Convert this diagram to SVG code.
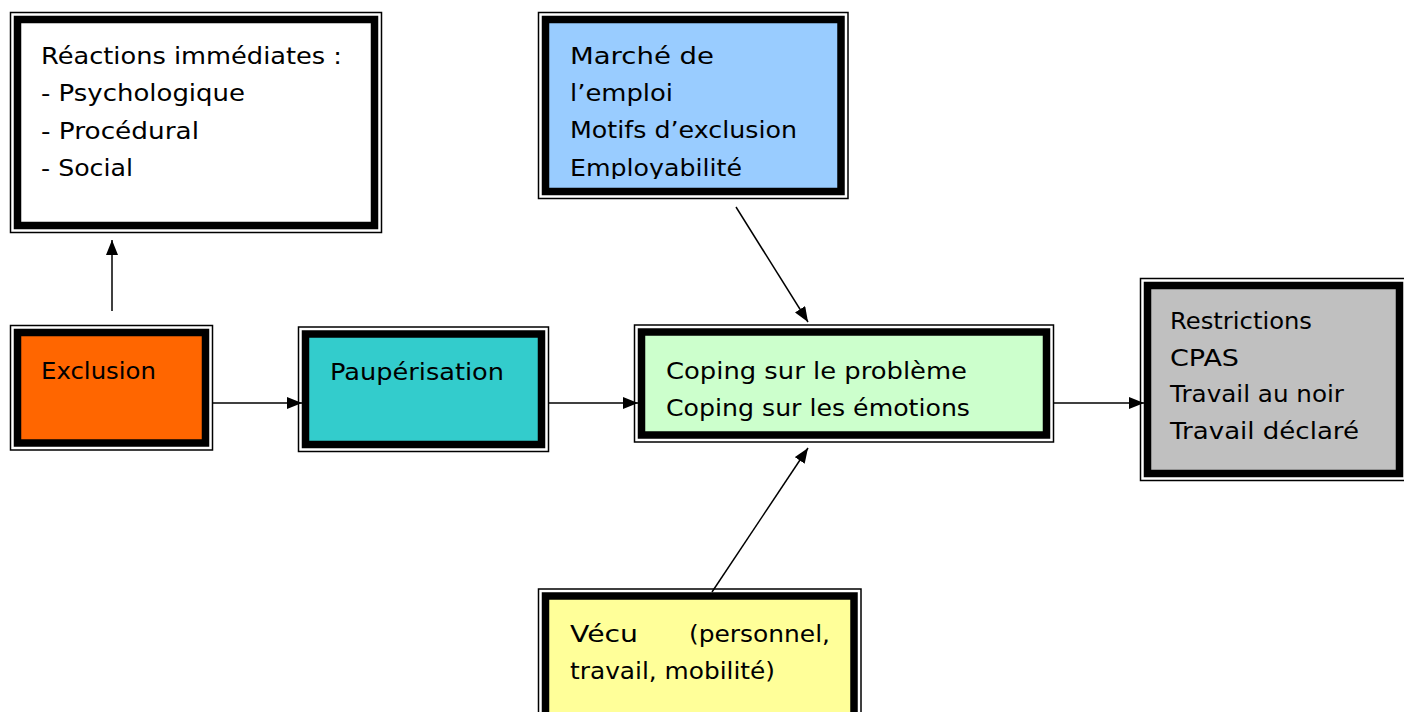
<svg xmlns="http://www.w3.org/2000/svg" width="1404" height="712" viewBox="0 0 1404 712">
<style>
.outer{fill:#fff;stroke:#000;stroke-width:1.5}
.thick{stroke:#000;stroke-width:7.5}
.t{font-family:"DejaVu Sans","Liberation Sans",sans-serif;font-size:23.5px;fill:#000}
.c{stroke:#000;stroke-width:1.5;fill:none}
</style>
<defs>
<marker id="ah" markerUnits="userSpaceOnUse" markerWidth="15" markerHeight="12" refX="15" refY="6" orient="auto">
<path d="M0,0 L15,6 L0,12 z" fill="#000"/>
</marker>
<clipPath id="clipM"><rect x="550" y="24" width="287" height="155"/></clipPath>
</defs>
<rect width="1404" height="712" fill="#fff"/>

<g id="reactions">
<rect class="outer" x="10.5" y="12.5" width="371" height="220"/>
<rect class="thick" x="17.5" y="19.5" width="357" height="206" fill="#fff"/>
<text class="t" x="41" y="64" textLength="301" lengthAdjust="spacingAndGlyphs">Réactions immédiates :</text>
<text class="t" x="41" y="101" textLength="204" lengthAdjust="spacingAndGlyphs">- Psychologique</text>
<text class="t" x="41" y="138.5" textLength="158" lengthAdjust="spacingAndGlyphs">- Procédural</text>
<text class="t" x="41" y="176" textLength="92" lengthAdjust="spacingAndGlyphs">- Social</text>
</g>

<g id="exclusion">
<rect class="outer" x="10.5" y="325.5" width="202" height="124.5"/>
<rect class="thick" x="17.5" y="332.5" width="188" height="110.5" fill="#FF6600"/>
<text class="t" x="41" y="379" textLength="115" lengthAdjust="spacingAndGlyphs">Exclusion</text>
</g>

<g id="pauperisation">
<rect class="outer" x="298.5" y="327" width="250" height="124.5"/>
<rect class="thick" x="305.5" y="334" width="236" height="110.5" fill="#33CCCC"/>
<text class="t" x="330" y="380" textLength="174" lengthAdjust="spacingAndGlyphs">Paupérisation</text>
</g>

<g id="marche">
<rect class="outer" x="538.5" y="12.5" width="309.5" height="186"/>
<rect class="thick" x="545.5" y="19.5" width="295.5" height="172" fill="#99CCFF"/>
<g clip-path="url(#clipM)">
<text class="t" x="570" y="63.5" textLength="144" lengthAdjust="spacingAndGlyphs">Marché de</text>
<text class="t" x="570" y="100.5" textLength="103" lengthAdjust="spacingAndGlyphs">l’emploi</text>
<text class="t" x="570" y="138" textLength="227" lengthAdjust="spacingAndGlyphs">Motifs d’exclusion</text>
<text class="t" x="570" y="175.5" textLength="172" lengthAdjust="spacingAndGlyphs">Employabilité</text>
</g>
</g>

<g id="coping">
<rect class="outer" x="634.5" y="325" width="419" height="117"/>
<rect class="thick" x="641.5" y="332" width="405" height="103" fill="#CCFFCC"/>
<text class="t" x="666" y="379" textLength="301" lengthAdjust="spacingAndGlyphs">Coping sur le problème</text>
<text class="t" x="666" y="416" textLength="304" lengthAdjust="spacingAndGlyphs">Coping sur les émotions</text>
</g>

<g id="restrictions">
<rect class="outer" x="1140.5" y="278.5" width="270" height="202"/>
<rect class="thick" x="1147.5" y="285.5" width="252" height="188" fill="#C0C0C0"/>
<text class="t" x="1170" y="329" textLength="142" lengthAdjust="spacingAndGlyphs">Restrictions</text>
<text class="t" x="1170" y="365.5" textLength="69" lengthAdjust="spacingAndGlyphs">CPAS</text>
<text class="t" x="1170" y="402" textLength="174" lengthAdjust="spacingAndGlyphs">Travail au noir</text>
<text class="t" x="1170" y="439" textLength="189" lengthAdjust="spacingAndGlyphs">Travail déclaré</text>
</g>

<g id="vecu">
<rect class="outer" x="538.5" y="589" width="322.5" height="140"/>
<rect class="thick" x="545.5" y="596" width="308.5" height="130" fill="#FFFF99"/>
<text class="t" x="570" y="642" textLength="68" lengthAdjust="spacingAndGlyphs">Vécu</text>
<text class="t" x="689" y="642" textLength="141" lengthAdjust="spacingAndGlyphs">(personnel,</text>
<text class="t" x="570" y="679" textLength="205" lengthAdjust="spacingAndGlyphs">travail, mobilité)</text>
</g>

<g id="connectors">
<line class="c" x1="112" y1="311" x2="112" y2="240" marker-end="url(#ah)"/>
<line class="c" x1="213" y1="403" x2="302" y2="403" marker-end="url(#ah)"/>
<line class="c" x1="549" y1="403" x2="638" y2="403" marker-end="url(#ah)"/>
<line class="c" x1="1054" y1="403" x2="1144" y2="403" marker-end="url(#ah)"/>
<line class="c" x1="736" y1="207" x2="808" y2="322" marker-end="url(#ah)"/>
<line class="c" x1="712" y1="592" x2="808" y2="448" marker-end="url(#ah)"/>
</g>
</svg>
